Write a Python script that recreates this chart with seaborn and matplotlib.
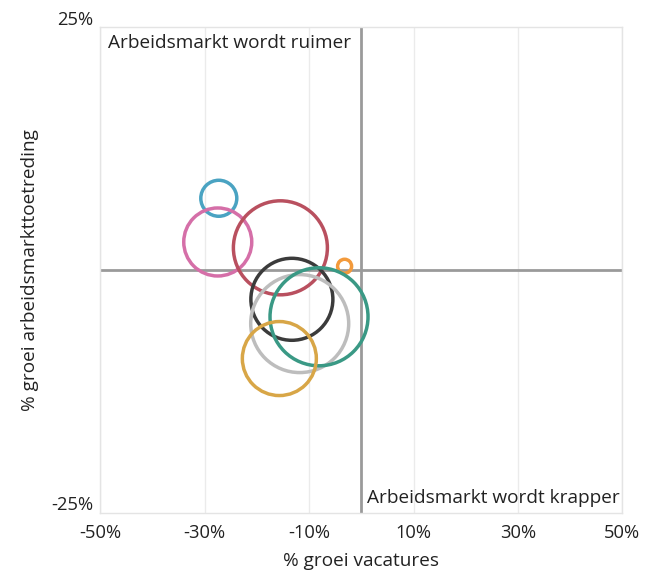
import pandas as pd
import matplotlib.pyplot as plt
import matplotlib.transforms as mtransforms
import seaborn as sns

# Bubble data
groepen = ['A', 'B', 'C', 'D', 'E', 'F', 'G', 'H']
groei_vacatures = [-27.3, -27.5, -15.5, -3.2, -13.3, -11.8, -8.1, -15.7]
groei_toetreding = [7.4, 2.9, 2.3, 0.4, -3.0, -5.5, -4.8, -9.1]
omvang = [324, 1156, 2209, 49, 1681, 2401, 2401, 1369]
kleuren = ['#4aa3c2', '#d56fa8', '#b9505f', '#f39a3b', '#3b3b3b',
           '#bdbdbd', '#3a9985', '#d8a647']

df = pd.DataFrame({'groep': groepen, 'x': groei_vacatures,
                   'y': groei_toetreding, 'omvang': omvang})

sns.set_theme(style='white')
plt.rcParams['font.family'] = ['Open Sans', 'DejaVu Sans']

fig = plt.figure(figsize=(6.53, 5.72), dpi=100)
ax = fig.add_axes([100.3 / 653, 1 - 513 / 572, 522 / 653, (513 - 27.3) / 572])

# max marker: radius ~49 px -> diameter in points
smax = (2 * 49 * 0.72) ** 2
sns.scatterplot(data=df, x='x', y='y', hue='groep', palette=kleuren,
                size='omvang', sizes=(0, smax), size_norm=(0, max(omvang)),
                linewidth=2.5, legend=False, ax=ax, zorder=3)
for coll in ax.collections:
    coll.set_facecolor('none')
    coll.set_edgecolor(kleuren)

ax.set_xlim(-50, 50)
ax.set_ylim(-25, 25)
ax.set_xticks([-50, -30, -10, 10, 30, 50])
ax.set_xticklabels(['-50%', '-30%', '-10%', '10%', '30%', '50%'])
ax.set_yticks([-25, 25])
ax.set_yticklabels(['-25%', '25%'])
ax.grid(axis='x', color='#ebebeb', linewidth=1)
ax.axhline(0, color='#9a9a9a', linewidth=2, zorder=2)
ax.axvline(0, color='#9a9a9a', linewidth=2, zorder=2)
for sp in ax.spines.values():
    sp.set_color('#e4e4e4')
    sp.set_linewidth(1)

ax.tick_params(axis='both', length=0, labelsize=13.2, colors='#222222')
ax.tick_params(axis='x', pad=8)
ax.tick_params(axis='y', pad=5)
offset = mtransforms.ScaledTranslation(0, 7 / 72, fig.dpi_scale_trans)
for lab in ax.get_yticklabels():
    lab.set_transform(lab.get_transform() + offset)

ax.set_xlabel('% groei vacatures', fontsize=13.7, color='#222222', labelpad=7)
ax.set_ylabel('% groei arbeidsmarkttoetreding', fontsize=13.7, color='#222222', labelpad=9)

ax.text(-48.6, 24.3, 'Arbeidsmarkt wordt ruimer', fontsize=13.7, color='#222222',
        ha='left', va='top')
ax.text(49.5, -24.4, 'Arbeidsmarkt wordt krapper', fontsize=13.7, color='#222222',
        ha='right', va='bottom')

plt.savefig('out.png', dpi=100)
plt.close()
